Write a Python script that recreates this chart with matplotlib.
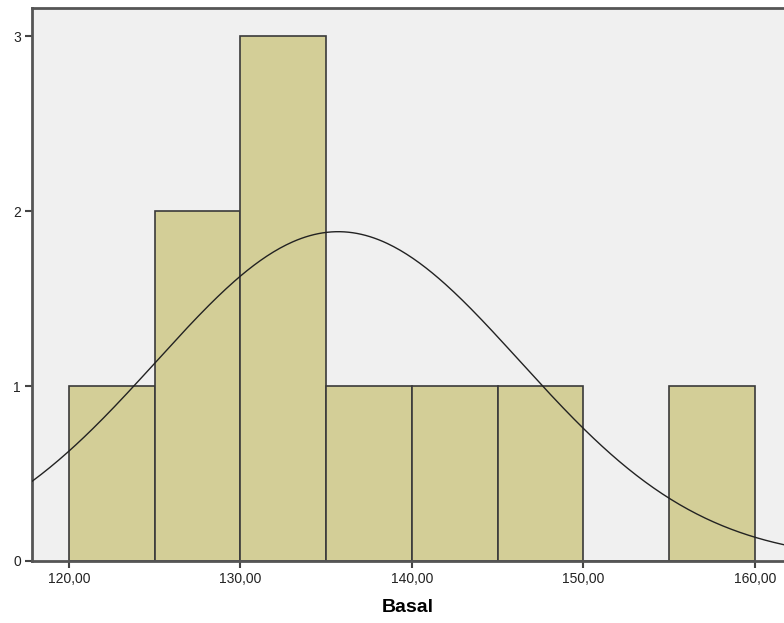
import numpy as np
import matplotlib
matplotlib.use("Agg")
import matplotlib.pyplot as plt

# histogram of Basal, bin width 5
bin_edges = [120, 125, 130, 135, 140, 145, 150, 155, 160]
counts = [1, 2, 3, 1, 1, 1, 0, 1]
n_total = 10
mean_basal = 135.7
sd_basal = 10.6
x_ticks = [120, 130, 140, 150, 160]
x_labels = ["120,00", "130,00", "140,00", "150,00", "160,00"]
y_ticks = [0, 1, 2, 3]

plt.rcParams['font.family'] = ['Liberation Sans', 'DejaVu Sans']

fig = plt.figure(figsize=(7.84, 6.23), dpi=100)
ax = fig.add_axes([32 / 784, 62 / 623, 1 - 32 / 784, (561 - 8) / 623])
ax.set_facecolor('#f0f0f0')

widths = np.diff(bin_edges)
ax.bar(bin_edges[:-1], counts, width=widths, align='edge',
       color='#d3ce97', edgecolor='#3a3a3a', linewidth=1.2, zorder=2)

# fitted normal curve scaled to counts
xs = np.linspace(115, 165, 400)
ys = n_total * 5 / (sd_basal * np.sqrt(2 * np.pi)) * np.exp(-0.5 * ((xs - mean_basal) / sd_basal) ** 2)
ax.plot(xs, ys, color='#222222', linewidth=1.0, zorder=3)

ax.set_xlim(117.84, 161.7)
ax.set_ylim(0, 3.16)
ax.set_xticks(x_ticks)
ax.set_xticklabels(x_labels)
ax.set_yticks(y_ticks)
ax.tick_params(axis='both', direction='out', length=5, width=1.5, color='#444444',
               labelsize=10, labelcolor='#222222', pad=3)

for side in ['left', 'bottom', 'top']:
    ax.spines[side].set_color('#555555')
    ax.spines[side].set_linewidth(2)
ax.spines['right'].set_visible(False)

ax.set_xlabel('Basal', fontsize=14, fontweight='bold', labelpad=9)

fig.savefig('out.png', dpi=100)
